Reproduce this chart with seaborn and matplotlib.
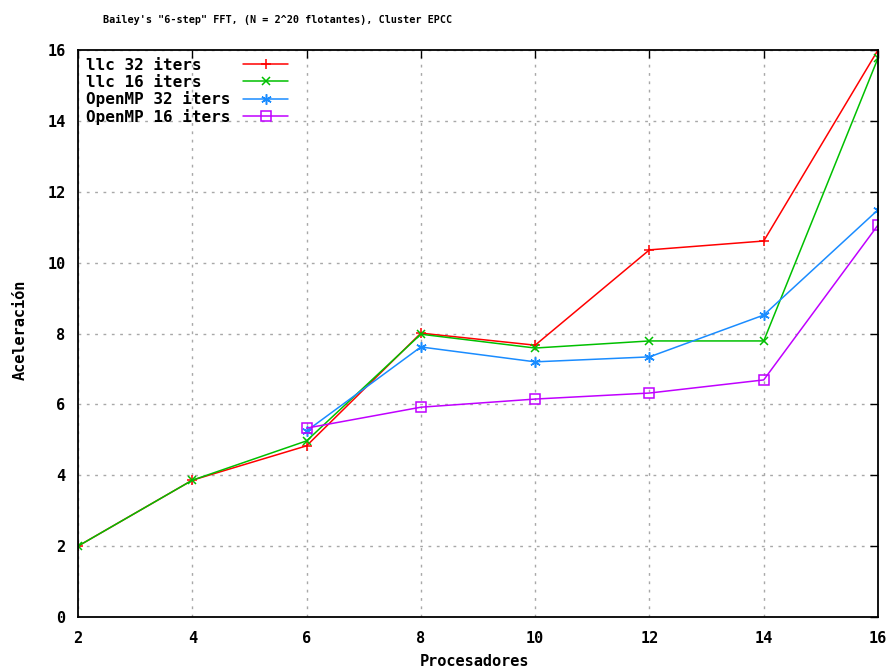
import matplotlib
matplotlib.use("Agg")
import matplotlib.pyplot as plt
import seaborn as sns
import pandas as pd

# processors on the x axis
procs = [2, 4, 6, 8, 10, 12, 14, 16]
procs_omp = [6, 8, 10, 12, 14, 16]

# speedup values
llc_32 = [2.0, 3.86, 4.83, 8.01, 7.67, 10.36, 10.61, 16.0]
llc_16 = [2.0, 3.86, 4.97, 7.98, 7.59, 7.79, 7.79, 15.77]
omp_32 = [5.25, 7.62, 7.20, 7.34, 8.52, 11.49]
omp_16 = [5.33, 5.92, 6.15, 6.32, 6.69, 11.06]

labels = ["llc 32 iters", "llc 16 iters", "OpenMP 32 iters", "OpenMP 16 iters"]
xticks = [2, 4, 6, 8, 10, 12, 14, 16]
yticks = [0, 2, 4, 6, 8, 10, 12, 14, 16]

sns.set_style("white")
plt.rcParams["font.family"] = ["DejaVu Sans Mono"]
plt.rcParams["font.weight"] = "bold"
plt.rcParams["text.color"] = "black"
plt.rcParams["xtick.color"] = "black"
plt.rcParams["ytick.color"] = "black"

fig = plt.figure(figsize=(8.9, 6.71), dpi=100)
ax = fig.add_axes([78 / 890, 1 - 617 / 671, 800 / 890, 567 / 671])

series = [
    (procs, llc_32, "#ff0000", "+", 7.5),
    (procs, llc_16, "#00c000", "x", 6),
    (procs_omp, omp_32, "#1a8cff", (6, 2, 0), 7.5),
    (procs_omp, omp_16, "#c000ff", "s", 6.5),
]
# pad labels so the monospaced legend text is left-aligned
width = max(len(l) for l in labels)
for (xs, ys, col, mk, ms), lab in zip(series, labels):
    df = pd.DataFrame({"x": xs, "y": ys})
    sns.lineplot(data=df, x="x", y="y", ax=ax, color=col, marker=mk,
                 markersize=ms, mfc="none", mec=col, mew=1.1, lw=1.1,
                 label=lab.ljust(width))

ax.set_xlim(2, 16)
ax.set_ylim(0, 16)
ax.set_xticks(xticks)
ax.set_yticks(yticks)
ax.tick_params(axis="y", pad=9)
ax.tick_params(axis="x", pad=10)
ax.tick_params(direction="in", length=6, width=1, top=True, right=True,
               labelsize=11)
for lbl in ax.get_xticklabels() + ax.get_yticklabels():
    lbl.set_fontweight("bold")
ax.grid(True, color="#a8a8a8", linestyle=(0, (2, 4)), linewidth=1)
for s in ax.spines.values():
    s.set_color("black")
    s.set_linewidth(1.3)

ax.set_xlabel("")
ax.set_ylabel("")
fig.text(474 / 890, 1 - 662 / 671, "Procesadores", ha="center", va="center",
         fontsize=11, fontweight="bold")
fig.text(20 / 890, 1 - 330 / 671, "Aceleración", ha="center", va="center",
         rotation=90, fontsize=11, fontweight="bold")
fig.text(278 / 890, 1 - 20 / 671,
         "Bailey's \"6-step\" FFT, (N = 2^20 flotantes), Cluster EPCC",
         ha="center", va="center", fontsize=7.3, fontweight="bold")

leg = ax.legend(loc="upper left", markerfirst=False, frameon=False,
                fontsize=11.5, handlelength=2.8, handletextpad=0.8,
                labelspacing=0.1, borderaxespad=0.3, borderpad=0.2)
for t in leg.get_texts():
    t.set_fontweight("bold")

fig.savefig("out.png", dpi=100)
